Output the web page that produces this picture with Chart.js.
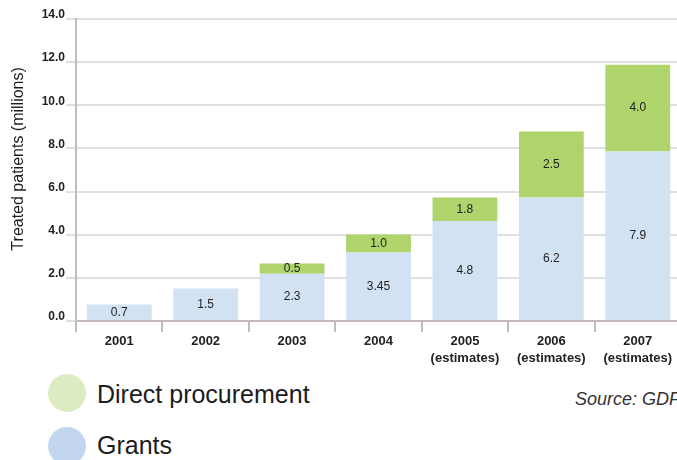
<!DOCTYPE html>
<html>
<head>
<meta charset="utf-8">
<script src="https://cdn.jsdelivr.net/npm/chart.js@4/dist/chart.umd.min.js"></script>
<style>
  html, body { margin: 0; padding: 0; background: #fff; overflow: hidden; }
  #wrap { position: relative; width: 677px; height: 460px; overflow: hidden; }
  #chart { position: absolute; left: 0; top: 0; }
  .key { position: absolute; left: 48px; width: 38px; height: 38px; border-radius: 50%; }
  .keytext { position: absolute; left: 97px; font: 25px 'Liberation Sans', Arial, sans-serif; color: #1c1c1c; white-space: nowrap; }
  #source { position: absolute; left: 575px; top: 389px; font: italic 18px 'Liberation Sans', Arial, sans-serif; color: #333; white-space: nowrap; }
</style>
</head>
<body>
<div id="wrap">
  <canvas id="chart" width="681" height="365"></canvas>
  <div class="key" style="top:374px; background:#dcebc1"></div>
  <div class="keytext" style="top:380px">Direct procurement</div>
  <div class="key" style="top:427px; background:#c2d7ef"></div>
  <div class="keytext" style="top:431px">Grants</div>
  <div id="source">Source: GDF</div>
</div>
<script>
var years = ['2001', '2002', '2003', '2004', ['2005', '(estimates)'], ['2006', '(estimates)'], ['2007', '(estimates)']];
// bar heights as drawn in the picture
var grants = [0.77, 1.51, 2.19, 3.18, 4.63, 5.73, 7.86];
var procurement = [null, null, 0.48, 0.83, 1.1, 3.05, 4.02];
// numbers printed on the bars
var grantLabels = ['0.7', '1.5', '2.3', '3.45', '4.8', '6.2', '7.9'];
var procurementLabels = ['', '', '0.5', '1.0', '1.8', '2.5', '4.0'];

var sans = "'Liberation Sans', Arial, sans-serif";
var axisColor = '#c6bac2';

var barLabels = {
    id: 'barLabels',
    afterDatasetsDraw: function (chart) {
        var ctx = chart.ctx;
        ctx.save();
        ctx.font = '12px ' + sans;
        ctx.fillStyle = '#222';
        ctx.textAlign = 'center';
        ctx.textBaseline = 'middle';
        chart.data.datasets.forEach(function (ds, i) {
            chart.getDatasetMeta(i).data.forEach(function (bar, j) {
                var txt = ds.valueLabels[j];
                if (!txt) return;
                ctx.fillText(txt, bar.x, (bar.y + bar.base) / 2);
            });
        });
        ctx.restore();
    }
};

new Chart('chart', {
    type: 'bar',
    data: {
        labels: years,
        datasets: [{
            label: 'Grants',
            data: grants,
            valueLabels: grantLabels,
            backgroundColor: '#d3e2f3'
        }, {
            label: 'Direct procurement',
            data: procurement,
            valueLabels: procurementLabels,
            backgroundColor: '#afd46b'
        }]
    },
    options: {
        responsive: false,
        animation: false,
        barPercentage: 0.75,
        categoryPercentage: 1,
        layout: { padding: { top: 19, left: 0, right: 0, bottom: 0 } },
        plugins: { legend: { display: false }, tooltip: { enabled: false } },
        scales: {
            x: {
                stacked: true,
                offset: true,
                grid: { offset: true, drawOnChartArea: false, drawTicks: true, tickLength: 11, color: axisColor, lineWidth: 2 },
                border: { color: axisColor, width: 2 },
                ticks: { font: { family: sans, size: 13, weight: 'bold', lineHeight: 1.3 }, color: '#222', padding: 1, maxRotation: 0, autoSkip: false },
                afterFit: function (s) { s.height = 44; }
            },
            y: {
                stacked: true,
                min: 0,
                max: 14,
                grid: { color: '#e0e0e0', lineWidth: 2, tickLength: 10, drawTicks: true },
                border: { color: axisColor, width: 2 },
                ticks: {
                    stepSize: 2,
                    callback: function (v) { return v.toFixed(1); },
                    font: { family: sans, size: 12, weight: 'bold' },
                    color: '#222',
                    padding: 1,
                    labelOffset: -4
                },
                title: {
                    display: true,
                    text: '     Treated patients (millions)',
                    font: { family: sans, size: 16 },
                    color: '#1c1c1c',
                    padding: { top: 9, bottom: 0 }
                },
                afterFit: function (s) { s.width = 76; }
            }
        }
    },
    plugins: [barLabels]
});
</script>
</body>
</html>
